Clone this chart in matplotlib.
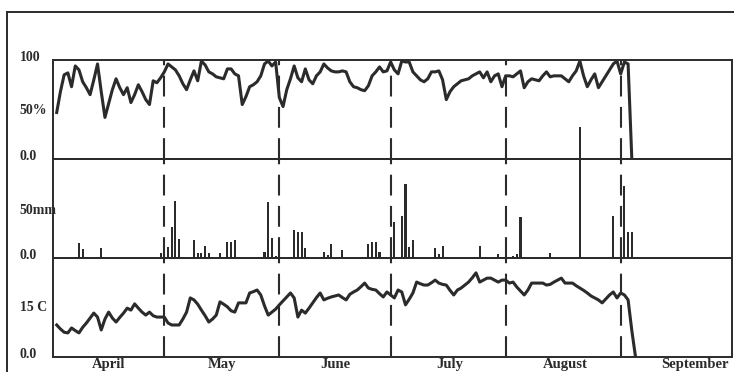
import numpy as np
import matplotlib.pyplot as plt
from matplotlib.lines import Line2D
from matplotlib.transforms import ScaledTranslation

# Daily values, day 1 = 2 April (day 0 = 1 April)
humidity = [
    47, 68, 85, 87, 73, 94, 90, 78, 72, 65, 80, 96, 68, 42, 56, 70, 81, 72, 65, 72,
    57, 65, 75, 68, 60, 55, 79, 77, 82, 88, 96, 93, 90, 84, 76, 70, 80, 89, 79, 99,
    95, 88, 86, 83, 82, 81, 91, 91, 86, 84, 55, 63, 73, 75, 78, 84, 96, 99, 94, 98,
    62, 53, 70, 81, 94, 82, 78, 91, 80, 76, 84, 88, 96, 92, 89, 88, 88, 89, 88, 78,
    73, 72, 70, 69, 74, 84, 88, 93, 88, 89, 98, 90, 86, 99, 98, 98, 88, 84, 80, 78,
    81, 88, 88, 89, 80, 60, 68, 73, 76, 79, 80, 81, 84, 86, 88, 82, 88, 78, 84, 86,
    73, 84, 84, 83, 86, 89, 72, 78, 81, 80, 79, 84, 88, 83, 84, 84, 84, 81, 78, 84,
    89, 99, 84, 73, 80, 86, 72, 78, 84, 90, 96, 99, 86, 98, 96, 0,
]

temperature = [
    9.7, 8.5, 7.5, 7.3, 8.8, 8.0, 7.3, 9.0, 10.3, 11.8, 13.3, 12.1, 8.2, 11.5, 13.6,
    11.8, 10.6, 12.0, 13.3, 14.8, 14.2, 16.1, 14.8, 13.6, 12.7, 13.6, 12.5, 12.1, 12.1,
    12.1, 10.3, 9.7, 9.7, 9.7, 11.5, 13.6, 17.9, 17.3, 16.0, 14.2, 12.5, 10.6, 11.5,
    12.7, 16.7, 16.0, 15.2, 14.0, 13.6, 16.4, 16.4, 16.4, 19.4, 19.8, 20.3, 18.8, 15.5,
    12.7, 13.6, 14.5, 15.8, 17.0, 18.2, 19.4, 17.9, 12.1, 14.2, 13.3, 14.8, 16.4, 18.0,
    19.4, 17.3, 17.8, 18.2, 18.5, 18.8, 18.0, 17.3, 19.0, 19.7, 20.3, 21.3, 22.4, 20.9,
    20.5, 20.3, 19.2, 18.2, 19.7, 18.8, 17.9, 20.3, 19.7, 15.8, 17.5, 19.4, 22.7, 22.2,
    21.8, 21.8, 22.5, 23.3, 22.4, 22.0, 21.8, 20.2, 18.8, 20.3, 20.9, 21.8, 22.7, 24.0,
    25.5, 22.7, 23.3, 23.9, 23.9, 23.3, 22.7, 23.3, 23.3, 22.4, 22.7, 21.2, 20.0, 18.8,
    20.3, 22.4, 22.4, 22.4, 22.4, 21.8, 22.0, 22.7, 23.3, 23.9, 22.4, 22.4, 22.4, 21.6,
    20.9, 20.2, 19.4, 18.5, 17.9, 17.3, 16.4, 17.6, 18.8, 19.7, 17.9, 19.4, 18.8, 17.3,
    8.0, 0,
]

rain_days = [7, 8, 13, 29, 30, 31, 32, 33, 34, 38, 39, 40, 41, 42, 45, 47, 48, 49,
             57, 58, 59, 60, 65, 66, 67, 68, 73, 74, 75, 78, 85, 86, 87, 88, 91, 92,
             94, 95, 96, 97, 103, 104, 105, 115, 120, 124, 125, 126, 134, 142, 151,
             153, 154, 155, 156]
rain_mm = [15, 9, 10, 5, 17, 11, 32, 59, 20, 19, 5, 5, 12, 5, 5, 17, 17, 19,
           6, 58, 21, 2, 29, 27, 27, 10, 6, 3, 14, 8, 14, 16, 16, 6, 17, 37,
           43, 76, 11, 19, 10, 4, 12, 12, 4, 2, 4, 42, 5, 135, 43,
           19, 74, 27, 27]

month_starts = [30, 61, 91, 122, 153]
month_names = ["April", "May", "June", "July", "August", "September"]
month_label_pos = [15, 45.5, 76, 107, 138, 173]

ink = "#2b2b2b"
plt.rcParams["font.family"] = ["Liberation Serif", "DejaVu Serif"]
plt.rcParams["font.weight"] = "bold"

fig = plt.figure(figsize=(7.34, 3.72), dpi=100)
W, H = 734, 372


def panel(top, bottom):
    ax = fig.add_axes([53 / W, (H - bottom) / H, 679 / W, (bottom - top) / H])
    ax.set_facecolor("none")
    for s in ax.spines.values():
        s.set_linewidth(1.4)
        s.set_color(ink)
    ax.set_xlim(0, 183)
    ax.set_xticks([])
    ax.tick_params(axis="y", length=0, pad=24, labelsize=10, colors=ink)
    for m in month_starts:
        ax.axvline(m, color=ink, lw=1.5, ls=(0, (10, 5)), zorder=1)
    return ax


def set_ylabels(ax, ticks, labels, lift):
    ax.set_yticks(ticks, labels)
    for lab, dy in zip(ax.get_yticklabels(), lift):
        lab.set_horizontalalignment("left")
        lab.set_transform(lab.get_transform() + ScaledTranslation(0, dy / 72, fig.dpi_scale_trans))


ax_h = panel(60, 159)
ax_r = panel(159, 258)
ax_t = panel(258, 357)
ax_r.set_zorder(3)

# Relative humidity
days_h = np.arange(1, len(humidity) + 1)
ax_h.plot(days_h, humidity, color=ink, lw=2.2, zorder=2)
ax_h.set_ylim(0, 100)
set_ylabels(ax_h, [0, 50, 100], ["0.0", "50%", "100"], [3, 0, 3])

# Precipitation
ax_r.bar(rain_days, rain_mm, width=0.55, color=ink, clip_on=False, zorder=2)
ax_r.set_ylim(0, 102)
set_ylabels(ax_r, [0, 50], ["0.0", "50mm"], [3, 0])

# Temperature
days_t = np.arange(1, len(temperature) + 1)
ax_t.plot(days_t, temperature, color=ink, lw=2.2, zorder=2)
ax_t.set_ylim(0, 30)
set_ylabels(ax_t, [0, 15], ["0.0", "15 C"], [3, 1])
ax_t.set_xticks(month_label_pos, month_names)
ax_t.tick_params(axis="x", length=0, pad=1, labelsize=10.5, colors=ink)

# Outer frame lines
fig.add_artist(Line2D([7 / W, 7 / W], [0, (H - 12) / H], transform=fig.transFigure,
                      color=ink, lw=1.4))
fig.add_artist(Line2D([7 / W, 1], [(H - 12) / H, (H - 12) / H], transform=fig.transFigure,
                      color=ink, lw=1.4))

fig.savefig("out.png", dpi=100)
